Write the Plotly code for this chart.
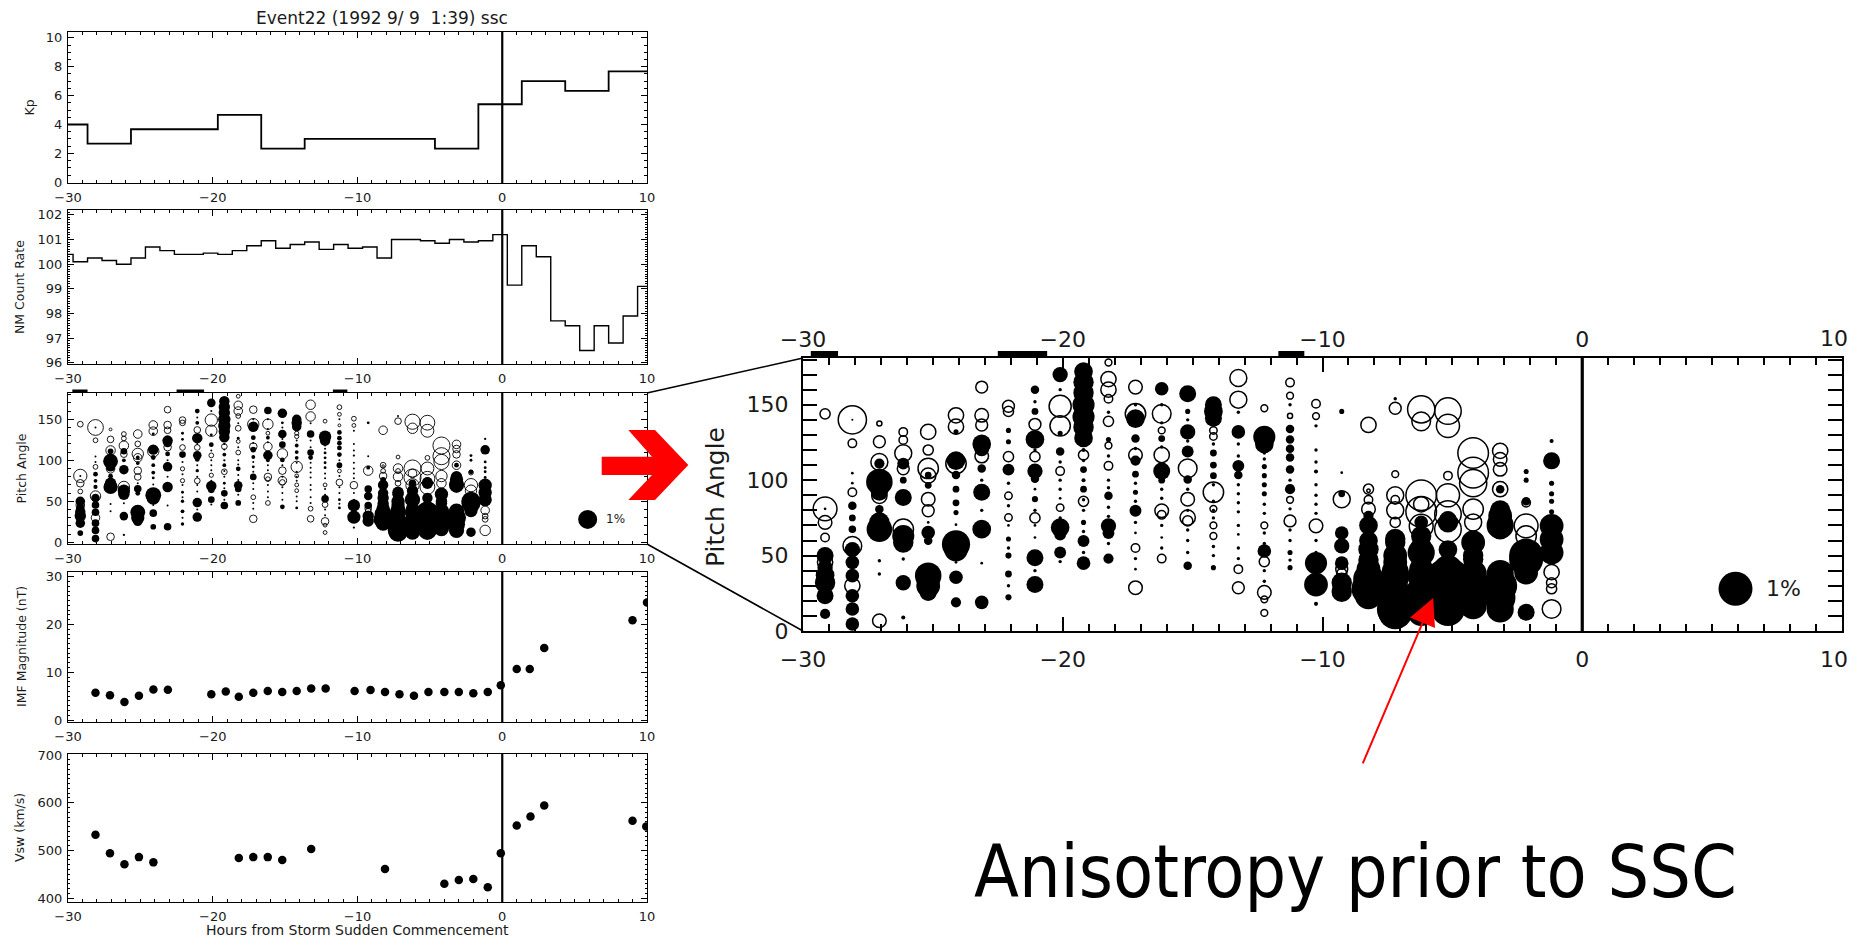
import plotly.graph_objects as go

# The page body keeps the browser's default 8 px margin, so the figure is made
# 16 px smaller than the window and every window-pixel position is shifted by 8.
WIN_W, WIN_H = 1860, 945
OFF = 8
W, H = WIN_W - 2 * OFF, WIN_H - 2 * OFF

# ---------------- data ----------------
title_text = "Event22 (1992 9/ 9\u00a0\u00a01:39) ssc"

x_tick_vals = [-30, -20, -10, 0, 10]
x_tick_text = ["\u221230", "\u221220", "\u221210", "0", "10"]

kp_edges = [-30, -28.65, -25.65, -19.65, -16.65, -13.65, -4.65, -1.65, 1.35, 4.35, 7.35, 10]
kp_values = [4.0, 2.67, 3.67, 4.67, 2.33, 3.0, 2.33, 5.4, 7.0, 6.33, 7.67]

nm_edges = [-30, -29.65, -28.65, -27.65, -26.65, -25.65, -24.65, -23.65, -22.65, -21.65, -20.65,
            -19.65, -18.65, -17.65, -16.65, -15.65, -14.65, -13.65, -12.65, -11.65, -10.65,
            -9.65, -8.65, -7.65, -6.65, -5.65, -4.65, -3.65, -2.65, -1.65, -0.65,
            0.35, 1.35, 2.35, 3.35, 4.35, 5.35, 6.35, 7.35, 8.35, 9.35, 10]
nm_values = [100.4, 100.1, 100.25, 100.15, 100.0, 100.25, 100.7, 100.55, 100.4, 100.4, 100.45,
             100.4, 100.55, 100.75, 100.95, 100.65, 100.8, 100.9, 100.6, 100.8, 100.65,
             100.7, 100.25, 101.0, 101.0, 100.95, 100.85, 101.0, 100.9, 100.95, 101.2,
             99.15, 100.75, 100.3, 97.7, 97.5, 96.5, 97.5, 96.8, 97.9, 99.1]

imf_hours = [-28.1, -27.1, -26.1, -25.1, -24.1, -23.1, -20.1, -19.1, -18.2, -17.2, -16.2, -15.2,
             -14.2, -13.2, -12.2, -10.2, -9.1, -8.1, -7.1, -6.1, -5.1, -4.0, -3.0, -2.0, -1.0,
             -0.1, 1.0, 1.9, 2.9, 9.0, 10.0]
imf_values = [5.7, 5.2, 3.8, 5.1, 6.4, 6.35, 5.4, 6.0, 4.9, 5.7, 6.1, 5.9,
              6.1, 6.6, 6.6, 6.1, 6.3, 5.9, 5.4, 5.1, 5.9, 5.9, 5.9, 5.6, 5.9,
              7.3, 10.7, 10.7, 15.1, 20.9, 24.6]

vsw_hours = [-28.1, -27.1, -26.1, -25.1, -24.1, -18.2, -17.2, -16.2, -15.2, -13.2, -8.1,
             -4.0, -3.0, -2.0, -1.0, -0.1, 1.0, 1.95, 2.9, 9.0, 9.95]
vsw_values = [533, 494, 471, 486, 475, 484, 486, 486, 480, 503, 461,
              430, 438, 440, 423, 494, 552, 571, 594, 562, 550]

# pitch-angle anisotropy: one entry per hourly column, [pitch angle (deg), amplitude (%)]
pa_hours = [-29.15, -28.1, -27.06, -26.14, -25.18, -24.11, -23.12, -22.09, -21.07, -20.1,
            -19.2, -18.24, -17.2, -16.19, -15.19, -14.2, -13.24, -12.24, -11.25, -10.25,
            -9.26, -8.23, -7.2, -6.2, -5.17, -4.2, -3.16, -2.16, -1.18]

# deficit (filled circles)
pa_filled = [
    [[81, 0.08], [50, 0.5], [42, 0.45], [37, 0.55], [32, 0.6], [23.4, 0.5], [11.3, 0.3]],
    [[140, 0.06], [104.6, 0.08], [98, 0.08], [83, 0.25], [75, 0.2], [67.5, 0.22], [54, 0.45], [45.5, 0.4],
     [36.7, 0.4], [23.4, 0.4], [14.6, 0.4], [4.6, 0.4]],
    [[111, 0.3], [98.8, 0.78], [92, 0.5], [80.7, 0.25], [72, 0.6], [67.5, 0.75], [46.6, 0.1], [37.8, 0.1]],
    [[111, 0.35], [100, 0.2], [88.5, 0.5], [63, 0.65], [58.6, 0.6], [47.7, 0.1], [32, 0.45], [9, 0.12]],
    [[103.4, 0.2], [96.6, 0.2], [72, 0.08], [65.3, 0.4], [59.8, 0.25], [36.7, 0.78], [30, 0.7], [25.6, 0.5]],
    [[132, 0.15], [113, 0.55], [103.4, 0.25], [94, 0.2], [85, 0.2], [78.5, 0.15], [70.5, 0.08], [57.5, 0.83],
     [54, 0.7], [45.5, 0.08], [35.6, 0.4], [19, 0.3]],
    [[124, 0.55], [121, 0.45], [107.8, 0.25], [100, 0.1], [92, 0.5], [80, 0.1], [67.5, 0.55], [45, 0.08],
     [19, 0.4]],
    [[133, 0.15], [125.5, 0.15], [107, 0.35], [98, 0.1], [83, 0.1], [70, 0.08], [61, 0.15], [55, 0.1],
     [50, 0.18], [37.8, 0.2], [30, 0.1], [22.3, 0.18]],
    [[160, 0.25], [152, 0.1], [145.6, 0.2], [127, 0.55], [120, 0.1], [106, 0.45], [101, 0.25], [94, 0.08],
     [87.4, 0.18], [80, 0.1], [70, 0.08], [62, 0.08], [48.5, 0.5], [40, 0.1], [30.8, 0.5]],
    [[170, 0.45], [160, 0.1], [131, 0.15], [119, 0.25], [112, 0.1], [100, 0.1], [94, 0.1], [88, 0.08],
     [75, 0.1], [68.6, 0.55], [64, 0.35], [52, 0.35], [46, 0.1]],
    [[172, 0.55], [165, 0.6], [158, 0.6], [150, 0.65], [142, 0.65], [135, 0.6], [128, 0.55], [120, 0.12],
     [113, 0.1], [107, 0.2], [100, 0.12], [94, 0.2], [87, 0.1], [80, 0.1], [72, 0.15], [66, 0.1],
     [59.7, 0.35], [52, 0.1], [45, 0.4]],
    [[145, 0.1], [127, 0.15], [116, 0.1], [100, 0.1], [95, 0.1], [89.6, 0.25], [82, 0.1], [76, 0.1],
     [69.7, 0.45], [65, 0.35], [58, 0.1], [48, 0.3]],
    [[150, 0.1], [140.8, 0.55], [127.6, 0.25], [121, 0.1], [113, 0.3], [104, 0.2], [98, 0.1], [92, 0.15],
     [86, 0.1], [79.7, 0.35], [72, 0.1], [65, 0.08], [48, 0.1], [41, 0.08]],
    [[160.6, 0.4], [150, 0.1], [138, 0.1], [127.6, 0.2], [122, 0.1], [106, 0.5], [100, 0.2], [94, 0.1],
     [88, 0.1], [70, 0.1], [62, 0.08], [55, 0.1]],
    [[157.3, 0.5], [145.6, 0.15], [140, 0.1], [132, 0.45], [126, 0.1], [120, 0.1], [119, 0.35], [100.5, 0.25],
     [94, 0.1], [80, 0.1], [67, 0.1], [60, 0.1], [52, 0.1], [43.3, 0.25]],
    [[150, 0.5], [145.6, 0.55], [141, 0.5], [124, 0.1], [118, 0.2], [110, 0.2], [103, 0.2], [97, 0.1],
     [86, 0.1], [80, 0.1], [75, 0.1], [56, 0.1], [50, 0.1], [42, 0.15]],
    [[145, 0.1], [132, 0.4], [124, 0.1], [116, 0.1], [109.5, 0.35], [103.4, 0.25], [97, 0.1], [91, 0.1],
     [85, 0.1], [79, 0.1], [70, 0.1], [64, 0.08], [55, 0.1], [48, 0.1]],
    [[128.7, 0.65], [124, 0.55], [118, 0.1], [114, 0.1], [109, 0.15], [103, 0.15], [97, 0.15], [91, 0.15],
     [84, 0.1], [78, 0.1], [65, 0.1], [58, 0.1], [53, 0.4], [40, 0.1], [33, 0.1]],
    [[150, 0.1], [134, 0.25], [127, 0.25], [120.8, 0.25], [115, 0.25], [107, 0.25], [100, 0.1], [94, 0.3],
     [81, 0.1], [67, 0.1], [60, 0.1], [52, 0.15], [47, 0.1], [42, 0.15]],
    [[136, 0.1], [120, 0.1], [112, 0.1], [105.7, 0.12], [97, 0.1], [90, 0.1], [84, 0.1], [78, 0.1],
     [60, 0.1], [52, 0.1], [45, 0.65], [30.8, 0.7], [18, 0.12]],
    [[145.6, 0.15], [105, 0.08], [91, 0.2], [65, 0.4], [56.4, 0.45], [45, 0.4], [32, 0.6], [26, 0.6]],
    [[76.3, 0.3], [70, 0.55], [60, 0.55], [54, 0.6], [47, 0.6], [41, 0.7], [34.5, 0.9], [28, 1.0],
     [23.4, 0.8]],
    [[154, 0.1], [61, 0.6], [58.6, 0.6], [50, 0.7], [45.5, 0.7], [39, 0.8], [35, 0.8], [25, 0.9],
     [14.6, 1.08], [12.4, 1.0]],
    [[72, 0.4], [63, 0.6], [56, 0.6], [52, 0.8], [41, 0.7], [36.5, 0.8], [25.6, 0.9], [23, 1.0], [12.4, 0.8]],
    [[74, 0.5], [72, 0.6], [54, 0.55], [40, 0.9], [32, 1.45], [28, 1.3], [14.6, 1.0]],
    [[58.7, 0.7], [50, 0.6], [47.6, 0.6], [38, 0.8], [30, 1.0], [22, 0.9], [16.8, 0.8]],
    [[94, 0.25], [80, 0.6], [76.3, 0.7], [70, 0.8], [67.5, 0.6], [38, 0.8], [30, 1.0], [22, 0.9],
     [14.6, 0.8]],
    [[105.7, 0.15], [100, 0.15], [86, 0.25], [50, 1.0], [47.6, 1.0], [38.8, 0.7], [12.4, 0.5]],
    [[126, 0.12], [112.8, 0.5], [98, 0.15], [91, 0.15], [86, 0.15], [79, 0.15], [69.7, 0.7], [60.8, 0.7],
     [52, 0.7]],
]

# excess (open circles)
pa_open = [
    [[144, 0.3], [81, 0.7], [72, 0.4], [62, 0.25], [45.5, 0.45]],
    [[140, 0.83], [124.4, 0.25], [92, 0.25], [56.4, 0.55], [30, 0.45]],
    [[137.6, 0.15], [125.5, 0.35], [112, 0.5], [89.6, 0.45], [6.8, 0.4]],
    [[132, 0.25], [126.6, 0.25], [117.8, 0.5], [107.5, 0.35], [67.5, 0.6]],
    [[132, 0.45], [120, 0.3], [107.8, 0.6], [103, 0.45], [87.4, 0.4], [79.7, 0.35]],
    [[143, 0.45], [135.5, 0.45], [111, 0.6]],
    [[161.7, 0.35], [143, 0.4], [136.6, 0.35], [116, 0.4]],
    [[149, 0.35], [145.6, 0.3], [115.6, 0.3], [89.6, 0.22], [75.2, 0.22]],
    [[137, 0.35], [115.6, 0.3], [75, 0.3]],
    [[149, 0.65], [136, 0.6], [106, 0.25], [81.8, 0.22]],
    [[138, 0.5], [116.7, 0.3], [86, 0.3]],
    [[178, 0.2], [167, 0.45], [160, 0.45], [154, 0.25], [139, 0.3], [123, 0.2], [109.5, 0.25]],
    [[161.7, 0.4], [144, 0.6], [116.7, 0.4], [55, 0.25], [28.7, 0.4]],
    [[144, 0.55], [133, 0.2], [116.7, 0.45], [79.7, 0.4], [77, 0.25], [48, 0.25]],
    [[107.8, 0.55], [87.4, 0.4], [75.2, 0.45], [73, 0.3]],
    [[133, 0.22], [129, 0.22], [92, 0.6], [81, 0.2], [70, 0.2], [63, 0.2]],
    [[167.7, 0.5], [153.4, 0.5], [41, 0.25], [28.7, 0.35]],
    [[147.7, 0.2], [70, 0.2], [46, 0.3], [25.6, 0.4], [21, 0.2], [12, 0.2]],
    [[164.7, 0.25], [156, 0.2], [142.6, 0.15], [87, 0.2], [73, 0.35]],
    [[150.7, 0.25], [142.5, 0.2], [69.7, 0.4]],
    [[87.4, 0.5], [41, 0.35], [38, 0.3]],
    [[136.6, 0.45], [94, 0.3], [93, 0.1], [87, 0.25], [80.8, 0.4]],
    [[147.7, 0.35], [104, 0.2], [90, 0.5], [87, 0.25], [80, 0.5], [72, 0.3]],
    [[147, 0.8], [139, 0.55], [90, 0.9], [84, 0.45], [79, 0.9], [69.5, 0.7]],
    [[145.8, 0.78], [136, 0.68], [103, 0.25], [90, 0.68], [77.5, 0.78], [67.5, 0.78]],
    [[118, 0.9], [105, 0.9], [98, 0.8], [80.8, 0.6], [72, 0.5]],
    [[119.4, 0.45], [113.8, 0.4], [107.2, 0.4], [94, 0.45]],
    [[85, 0.25], [69.7, 0.7], [63, 0.6]],
    [[39, 0.45], [32, 0.3], [28, 0.3], [14.6, 0.55]],
]

legend_amp = 1.0
legend_hour = 5.9
legend_angle = 28

gap_starts = [-29.7, -22.5, -11.7]
gap_ends = [-28.65, -20.6, -10.7]

# ---------------- layout helpers ----------------
FONT = "DejaVu Sans"
TXT = "#1a1a1a"


def px_x(p):
    return (p - OFF) / W


def px_y(p):
    return 1 - (p - OFF) / H


def xd(a, b):
    return [px_x(a), px_x(b)]


def yd(top, bottom):
    return [px_y(bottom), px_y(top)]


LX = xd(68, 647)
KP_Y = yd(32, 183)
NM_Y = yd(210, 364)
PA_Y = yd(393, 544)
IMF_Y = yd(572, 722)
VSW_Y = yd(754, 902)
BX = xd(803, 1842)
BY = yd(358, 631)

SMALL_PX = 19.0   # marker diameter for 1 % in the small panel
BIG_PX = 34.0     # marker diameter for 1 % in the magnified panel


def xaxis(domain, anchor, ticktext, size=13, lw=1.1, tl=6, mtl=3, standoff=2):
    return dict(domain=domain, anchor=anchor, range=[-30, 10], tickmode="array",
                tickvals=x_tick_vals, ticktext=ticktext,
                ticks="inside", ticklen=tl, tickwidth=lw, tickcolor="black",
                showline=True, linecolor="black", linewidth=lw, mirror="allticks",
                showgrid=False, zeroline=False,
                ticklabelstandoff=standoff, ticklabeloverflow="allow",
                minor=dict(dtick=1, tick0=-30, ticklen=mtl, tickwidth=lw * 0.8, ticks="inside",
                           tickcolor="black", showgrid=False),
                tickfont=dict(family=FONT, size=size, color=TXT))


def yaxis(domain, anchor, rng, tickvals, minor, size=13, lw=1.1, tl=6, mtl=3, standoff=2):
    return dict(domain=domain, anchor=anchor, range=rng, tickvals=tickvals,
                ticks="inside", ticklen=tl, tickwidth=lw, tickcolor="black",
                showline=True, linecolor="black", linewidth=lw, mirror="allticks",
                showgrid=False, zeroline=False, ticklabelstandoff=standoff,
                minor=dict(dtick=minor, ticklen=mtl, tickwidth=lw * 0.8, ticks="inside",
                           tickcolor="black", showgrid=False),
                tickfont=dict(family=FONT, size=size, color=TXT))


# the magnified panel's "10" sits on the page edge, so it is written separately, nudged inward
big_tick_text = x_tick_text[:-1] + [""]

# ---------------- build traces ----------------
fx, fy, fa, ox, oy, oa = [], [], [], [], [], []
for h, fl, op in zip(pa_hours, pa_filled, pa_open):
    for ang, amp in fl:
        fx.append(h); fy.append(ang); fa.append(amp)
    for ang, amp in op:
        ox.append(h); oy.append(ang); oa.append(amp)

fig = go.Figure()

fig.add_trace(go.Scatter(x=kp_edges, y=kp_values + [kp_values[-1]], mode="lines",
                         line=dict(shape="hv", color="black", width=1.8), xaxis="x", yaxis="y"))
fig.add_trace(go.Scatter(x=nm_edges, y=nm_values + [nm_values[-1]], mode="lines",
                         line=dict(shape="hv", color="black", width=1.4), xaxis="x2", yaxis="y2"))


def bubbles(xa, ya, scale, lw):
    fig.add_trace(go.Scatter(x=ox, y=oy, mode="markers", xaxis=xa, yaxis=ya, cliponaxis=True,
                             marker=dict(symbol="circle-open", color="black", opacity=1,
                                         size=[max(2.5, a * scale) for a in oa],
                                         line=dict(width=lw))))
    fig.add_trace(go.Scatter(x=fx, y=fy, mode="markers", xaxis=xa, yaxis=ya, cliponaxis=True,
                             marker=dict(symbol="circle", color="black", opacity=1,
                                         size=[max(2.0, a * scale) for a in fa],
                                         line=dict(width=0))))
    fig.add_trace(go.Scatter(x=[legend_hour], y=[legend_angle], mode="markers", xaxis=xa, yaxis=ya,
                             marker=dict(symbol="circle", color="black", opacity=1,
                                         size=legend_amp * scale, line=dict(width=0))))


bubbles("x3", "y3", SMALL_PX, 0.9)
bubbles("x6", "y6", BIG_PX, 1.5)

fig.add_trace(go.Scatter(x=imf_hours, y=imf_values, mode="markers", xaxis="x4", yaxis="y4",
                         cliponaxis=True, marker=dict(color="black", size=8.5, opacity=1)))
fig.add_trace(go.Scatter(x=vsw_hours, y=vsw_values, mode="markers", xaxis="x5", yaxis="y5",
                         cliponaxis=True, marker=dict(color="black", size=8.5, opacity=1)))
fig.add_trace(go.Scatter(x=[-30, 10], y=[0, 0], mode="markers", xaxis="x7", yaxis="y6",
                         marker=dict(opacity=0), hoverinfo="skip"))

# ---------------- axes ----------------
layout = dict(
    width=W, height=H, autosize=False, showlegend=False,
    margin=dict(l=0, r=0, t=0, b=0, pad=0, autoexpand=False),
    paper_bgcolor="white", plot_bgcolor="white",
    xaxis=xaxis(LX, "y", x_tick_text),
    yaxis=yaxis(KP_Y, "x", [-0.05, 10.4], [0, 2, 4, 6, 8, 10], 0.5),
    xaxis2=xaxis(LX, "y2", x_tick_text),
    yaxis2=yaxis(NM_Y, "x2", [95.95, 102.2], [96, 97, 98, 99, 100, 101, 102], 0.1, mtl=2),
    xaxis3=xaxis(LX, "y3", x_tick_text),
    yaxis3=yaxis(PA_Y, "x3", [-2, 182], [0, 50, 100, 150], 10),
    xaxis4=xaxis(LX, "y4", x_tick_text),
    yaxis4=yaxis(IMF_Y, "x4", [-0.4, 31], [0, 10, 20, 30], 1, mtl=2),
    xaxis5=xaxis(LX, "y5", x_tick_text),
    yaxis5=yaxis(VSW_Y, "x5", [392, 702], [400, 500, 600, 700], 10, mtl=2),
    xaxis6=xaxis(BX, "y6", big_tick_text, size=22, lw=2, tl=14, mtl=7, standoff=8),
    yaxis6=yaxis(BY, "x6", [0, 181], [0, 50, 100, 150], 10, size=22, lw=2, tl=14, mtl=8, standoff=8),
    xaxis7=dict(domain=BX, anchor="y6", overlaying="x6", side="top", range=[-30, 10], tickmode="array",
                tickvals=x_tick_vals, ticktext=big_tick_text, ticks="", showline=False,
                showgrid=False, zeroline=False, ticklabelstandoff=6,
                tickfont=dict(family=FONT, size=22, color=TXT)),
)
fig.update_layout(**layout)

# ---------------- shapes ----------------
shapes = []
for xa, ya, w in [("x", "y", 2.2), ("x2", "y2", 2.2), ("x3", "y3", 2.2), ("x4", "y4", 2.2),
                  ("x5", "y5", 2.2), ("x6", "y6", 3.2)]:
    shapes.append(dict(type="line", xref=xa, yref=ya + " domain", x0=0, x1=0, y0=0, y1=1,
                       line=dict(color="black", width=w)))
for s, e in zip(gap_starts, gap_ends):
    shapes.append(dict(type="rect", xref="x3", yref="y3 domain", x0=s, x1=e, y0=1.0, y1=1.0 + 3.5 / 151,
                       fillcolor="black", line=dict(width=0)))
    shapes.append(dict(type="rect", xref="x6", yref="y6 domain", x0=s, x1=e, y0=1.0, y1=1.0 + 7 / 273,
                       fillcolor="black", line=dict(width=0)))
shapes.append(dict(type="line", xref="paper", yref="paper", x0=LX[1], y0=PA_Y[1], x1=BX[0], y1=BY[1],
                   line=dict(color="black", width=1.6)))
shapes.append(dict(type="line", xref="paper", yref="paper", x0=LX[1], y0=PA_Y[0], x1=BX[0], y1=BY[0],
                   line=dict(color="black", width=1.6)))
arrow_px = [(601.7, 456.7), (652, 456.7), (628.3, 430), (655, 430), (688.3, 465),
            (655, 500), (628.3, 500), (652, 475), (601.7, 475)]
path = "M " + " L ".join(f"{px_x(x):.5f},{px_y(y):.5f}" for x, y in arrow_px) + " Z"
shapes.append(dict(type="path", xref="paper", yref="paper", path=path,
                   fillcolor="#ff0000", line=dict(width=0)))
fig.update_layout(shapes=shapes)

# ---------------- annotations ----------------
ann = []
ann.append(dict(text=title_text, xref="paper", yref="paper", x=px_x(382), y=px_y(18),
                showarrow=False, font=dict(family=FONT, size=17, color=TXT),
                xanchor="center", yanchor="middle"))
for txt, xpx, dom in [("Kp", 29, KP_Y), ("NM Count Rate", 19, NM_Y), ("Pitch Angle", 21, PA_Y),
                      ("IMF Magnitude (nT)", 21, IMF_Y), ("Vsw (km/s)", 19, VSW_Y)]:
    ann.append(dict(text=txt, xref="paper", yref="paper", x=px_x(xpx), y=(dom[0] + dom[1]) / 2,
                    textangle=-90, showarrow=False, xanchor="center", yanchor="middle",
                    font=dict(family=FONT, size=12.5, color=TXT)))
ann.append(dict(text="Hours from Storm Sudden Commencement", xref="paper", yref="paper",
                x=px_x(357), y=px_y(930), showarrow=False, xanchor="center", yanchor="middle",
                font=dict(family=FONT, size=14, color=TXT)))
ann.append(dict(text="Pitch Angle", xref="paper", yref="paper", x=px_x(715), y=px_y(497),
                textangle=-90, showarrow=False, xanchor="center", yanchor="middle",
                font=dict(family=FONT, size=25, color=TXT)))
# "10" labels of the magnified panel, kept inside the page
for ypx in (338, 659):
    ann.append(dict(text=x_tick_text[-1], xref="x6", yref="paper", x=x_tick_vals[-1], y=px_y(ypx),
                    xanchor="right", yanchor="middle", xshift=8, showarrow=False,
                    font=dict(family=FONT, size=22, color=TXT)))
ann.append(dict(text="1%", xref="x3", yref="y3", x=legend_hour + 1.1, y=legend_angle, xanchor="left",
                showarrow=False, font=dict(family=FONT, size=12, color=TXT)))
ann.append(dict(text="1%", xref="x6", yref="y6", x=legend_hour + 1.1, y=legend_angle, xanchor="left",
                showarrow=False, font=dict(family=FONT, size=22, color=TXT)))
ann.append(dict(text="", xref="x6", yref="y6", x=-5.74, y=21.9, ax=-71, ay=167,
                showarrow=True, arrowhead=2, arrowsize=2.7, arrowwidth=2, arrowcolor="#ff0000",
                standoff=0))
ann.append(dict(text="Anisotropy prior to SSC", xref="paper", yref="paper", x=px_x(1355), y=px_y(871),
                showarrow=False, xanchor="center", yanchor="middle",
                font=dict(family="DejaVu Sans Condensed, DejaVu Sans", size=73, color="black")))
fig.update_layout(annotations=ann)

fig.write_html("out.html", config={"displayModeBar": False})
